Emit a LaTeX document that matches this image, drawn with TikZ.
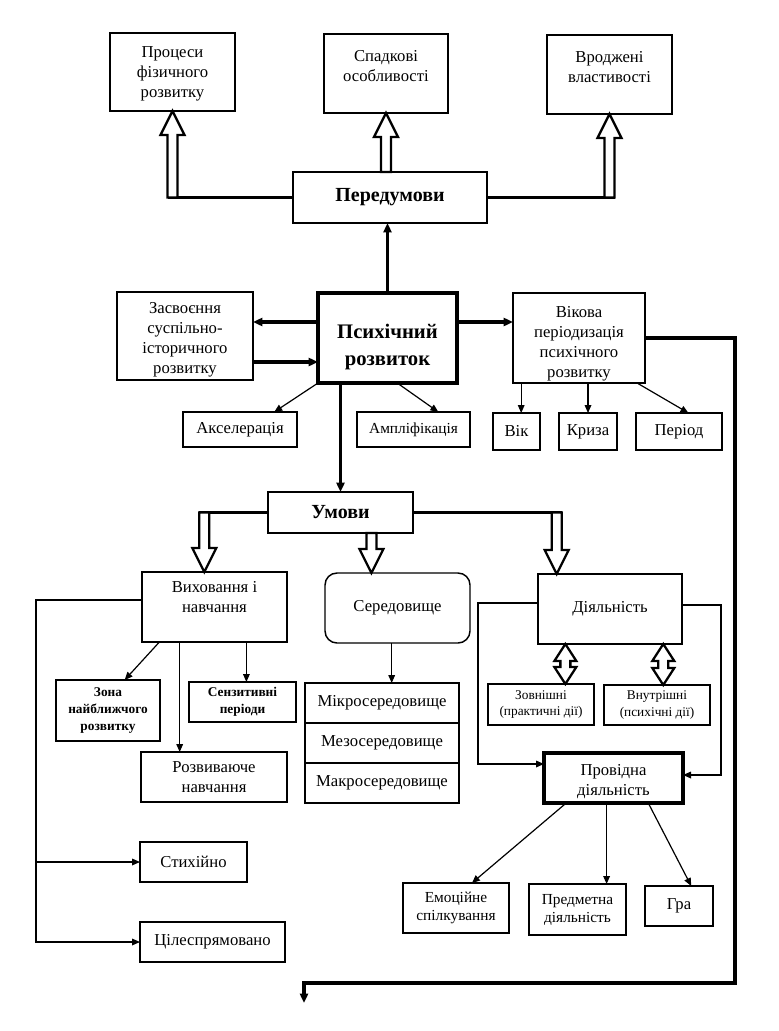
\documentclass[tikz,border=0pt]{standalone}
\usepackage{fontspec}
\setmainfont{Liberation Serif}
\usetikzlibrary{calc,arrows.meta}
\tikzset{
  box/.style={draw,line width=1.1pt,inner sep=0pt,outer sep=0pt,fill=white,font=\fontsize{12.5}{15}\selectfont},
  bbox/.style={box,line width=2.4pt},
  small/.style={font=\fontsize{10}{12.5}\selectfont},
  smallb/.style={font=\fontsize{10}{12.5}\selectfont\bfseries},
  mid/.style={font=\fontsize{11.5}{13.5}\selectfont},
  boldt/.style={font=\fontsize{15}{17}\selectfont\bfseries},
  bigb/.style={font=\fontsize{15.5}{20.5}\selectfont\bfseries},
  thn/.style={line width=0.9pt},
  med/.style={line width=1.6pt},
  thk/.style={line width=2.3pt},
  ta/.style={-{Triangle[length=6pt,width=5pt]}},
  tb/.style={-{Triangle[length=7pt,width=6pt]}},
  hol/.style={draw,line width=1.7pt,fill=white,line join=miter},
}
\newcommand\bx[8][]{%
  \pgfmathsetmacro\bw{(#5-#3)*0.75}%
  \pgfmathsetmacro\bh{(#6-#4)*0.75}%
  \node[box,#1] (#2) at ({(#3+#5)/2},{(#4+#6)/2}) {\parbox[c][\bh pt][#7]{\bw pt}{\centering #8\par}};}
\newcommand\holl[3]{%
  \draw[hol] ($(#2)+(-5,0)$) -- ($(#1)+(-5,24*#3)$) -- ($(#1)+(-12,24*#3)$) -- (#1) -- ($(#1)+(12,24*#3)$) -- ($(#1)+(5,24*#3)$) -- ($(#2)+(5,0)$) -- cycle;}
\newcommand\dholl[2]{%
  \draw[hol] (#1) -- ($(#1)+(11,17)$) -- ($(#1)+(5,17)$) -- ($(#2)+(5,-17)$) -- ($(#2)+(11,-17)$) -- (#2) -- ($(#2)+(-11,-17)$) -- ($(#2)+(-5,-17)$) -- ($(#1)+(-5,17)$) -- ($(#1)+(-11,17)$) -- cycle;}
\begin{document}
\begin{tikzpicture}[x=0.75pt,y=-0.75pt]
\fill[white] (0,0) rectangle (778,1031);
\useasboundingbox (0,0) rectangle (778,1031);
% top row
\bx{proc}{110}{33}{235}{111}{c}{\vspace*{3pt}Процеси\\фізичного\\розвитку}
\bx{spad}{324}{34}{448}{113}{t}{\vspace*{12pt}Спадкові\\особливості}
\bx{vrod}{547}{35}{672}{114}{t}{\vspace*{12pt}Вроджені\\властивості}
\bx[boldt]{pered}{293}{172}{487}{223}{c}{Передумови}
% middle row
\bx{zas}{117}{292}{253}{380}{c}{\vspace*{6pt}Засвоєння\\суспільно-\\історичного\\розвитку}
\bx[bbox,bigb]{psych}{318}{293}{457}{383}{c}{\vspace*{14pt}Психічний\\розвиток}
\bx{vikova}{513}{293}{645}{383}{c}{\vspace*{8pt}Вікова\\періодизація\\психічного\\розвитку}
\bx{akc}{183}{412}{297}{447}{c}{Акселерація}
\bx[mid]{ampl}{357}{412}{470}{447}{c}{Ампліфікація}
\bx{vik}{493}{413}{540}{450}{c}{Вік}
\bx{kryza}{559}{413}{617}{450}{c}{Криза}
\bx{period}{636}{413}{722}{450}{c}{Період}
% conditions
\bx[boldt]{umovy}{268}{492}{413}{533}{c}{Умови}
\bx{vyh}{142}{572}{287}{642}{t}{\vspace*{7pt}Виховання і\\навчання}
\bx[rounded corners=9pt]{sered}{325}{573}{470}{643}{c}{Середовище}
\bx{diyal}{538}{574}{682}{644}{c}{Діяльність}
\bx[smallb]{zona}{56}{680}{160}{741}{c}{Зона\\найближчого\\розвитку}
\bx[smallb]{senz}{189}{682}{296}{722}{c}{Сензитивні\\періоди}
\bx{rozv}{141}{752}{287}{802}{c}{Розвиваюче\\навчання}
\bx{mikro}{305}{683}{459}{723}{c}{Мікросередовище}
\bx{mezo}{305}{723}{459}{763}{c}{Мезосередовище}
\bx{makro}{305}{763}{459}{803}{c}{Макросередовище}
\bx[small]{zovn}{488}{684}{594}{725}{c}{Зовнішні\\(практичні дії)}
\bx[small]{vnut}{604}{685}{710}{725}{c}{Внутрішні\\(психічні дії)}
\bx[bbox]{provid}{544}{753}{683}{803}{c}{\vspace*{5pt}Провідна\\діяльність}
\bx{styh}{140}{842}{247}{882}{c}{Стихійно}
\bx{tsil}{140}{922}{285}{962}{c}{Цілеспрямовано}
\bx[mid]{emoc}{403}{883}{509}{933}{c}{Емоційне\\спілкування}
\bx[mid]{predm}{529}{884}{626}{935}{c}{Предметна\\діяльність}
\bx{hra}{645}{886}{713}{926}{c}{Гра}

% hollow arrows from Передумови
\coordinate (a1b) at (proc.south |- pered.west);
\coordinate (a2b) at (spad.south |- pered.north);
\coordinate (a3b) at (vrod.south |- pered.east);
\draw[thk] (pered.west) -- ($(a1b)+(-5,0)$);
\draw[thk] (pered.east) -- ($(a3b)+(5,0)$);
\holl{proc.south}{a1b}{1}
\holl{spad.south}{a2b}{1}
\holl{vrod.south}{a3b}{1}

% Психічний розвиток connections
\draw[med,tb] (psych.north) -- (psych.north |- pered.south);
\draw[thk,tb] ($(psych.west)+(0,-16)$) -- ($(zas.east |- psych.west)+(0,-16)$);
\draw[thk,tb] ($(zas.east |- psych.west)+(0,24)$) -- ($(psych.west)+(0,24)$);
\draw[thk,tb] ($(psych.east)+(0,-16)$) -- ($(vikova.west |- psych.east)+(0,-16)$);
\draw[thk,tb] (umovy.north |- psych.south) -- (umovy.north);
\draw[thn,ta] (psych.south west) -- ($(akc.north west)!0.8!(akc.north east)$);
\draw[thn,ta] ($(psych.south west)!0.57!(psych.south east)$) -- ($(ampl.north west)!0.72!(ampl.north east)$);
\coordinate (vk) at ($(vik.north west)!0.6!(vik.north east)$);
\draw[thn,ta] (vk |- vikova.south) -- (vk);
\draw[thn,ta] (kryza.north |- vikova.south) -- (kryza.north);
\draw[thn,ta] ($(vikova.south west)!0.94!(vikova.south east)$) -- ($(period.north west)!0.61!(period.north east)$);

% long route
\coordinate (rr) at (735,983);
\coordinate (endp) at (304,1003);
\draw[thk,tb] (vikova.east) -| (rr) -| (endp);

% hollow arrows from Умови
\coordinate (u1t) at ($(vyh.north west)!0.43!(vyh.north east)$);
\coordinate (u1b) at (u1t |- umovy.west);
\coordinate (u2t) at ($(sered.north west)!0.32!(sered.north east)$);
\coordinate (u2b) at (u2t |- umovy.south);
\coordinate (u3t) at ($(diyal.north west)!0.13!(diyal.north east)$);
\coordinate (u3b) at (u3t |- umovy.east);
\draw[thk] (umovy.west) -- ($(u1b)+(-5,0)$);
\draw[thk] (umovy.east) -- ($(u3b)+(5,0)$);
\holl{u1t}{u1b}{-1}
\holl{u2t}{u2b}{-1}
\holl{u3t}{u3b}{-1}

% Виховання і навчання
\coordinate (lx) at (36,0);
\coordinate (v0) at ($(vyh.west)+(0,-7)$);
\draw[thn,ta] (v0) -| (lx |- tsil.west) -- (tsil.west);
\draw[thn,ta] (lx |- styh.west) -- (styh.west);
\draw[thn,ta] ($(vyh.south west)!0.12!(vyh.south east)$) -- ($(zona.north west)!0.66!(zona.north east)$);
\coordinate (v2) at ($(vyh.south west)!0.26!(vyh.south east)$);
\draw[thn,ta] (v2) -- (v2 |- rozv.north);
\coordinate (v3) at ($(vyh.south west)!0.72!(vyh.south east)$);
\draw[thn,ta] (v3) -- (v3 |- senz.north);

% Середовище
\coordinate (s1) at ($(sered.south west)!0.46!(sered.south east)$);
\draw[thn,ta] (s1) -- (s1 |- mikro.north);

% Діяльність
\coordinate (d1) at ($(diyal.south west)!0.19!(diyal.south east)$);
\coordinate (d2) at ($(diyal.south west)!0.87!(diyal.south east)$);
\coordinate (d1b) at (d1 |- zovn.north);
\coordinate (d2b) at (d2 |- vnut.north);
\dholl{d1}{d1b}
\dholl{d2}{d2b}
\coordinate (dl) at (478,0);
\coordinate (dr) at (721,0);
\coordinate (p1) at ($(provid.west)+(0,-14)$);
\coordinate (p2) at ($(provid.east)+(0,-3)$);
\draw[thn,ta] ($(diyal.west)+(0,-6)$) -| (dl |- p1) -- (p1);
\draw[thn,ta] ($(diyal.east)+(0,-4)$) -| (dr |- p2) -- (p2);

% Провідна діяльність
\draw[thn,ta] ($(provid.south west)!0.16!(provid.south east)$) -- ($(emoc.north west)!0.65!(emoc.north east)$);
\coordinate (q2) at ($(predm.north west)!0.8!(predm.north east)$);
\draw[thn,ta] (q2 |- provid.south) -- (q2);
\draw[thn,ta] ($(provid.south west)!0.75!(provid.south east)$) -- ($(hra.north west)!0.68!(hra.north east)$);
\end{tikzpicture}
\end{document}
